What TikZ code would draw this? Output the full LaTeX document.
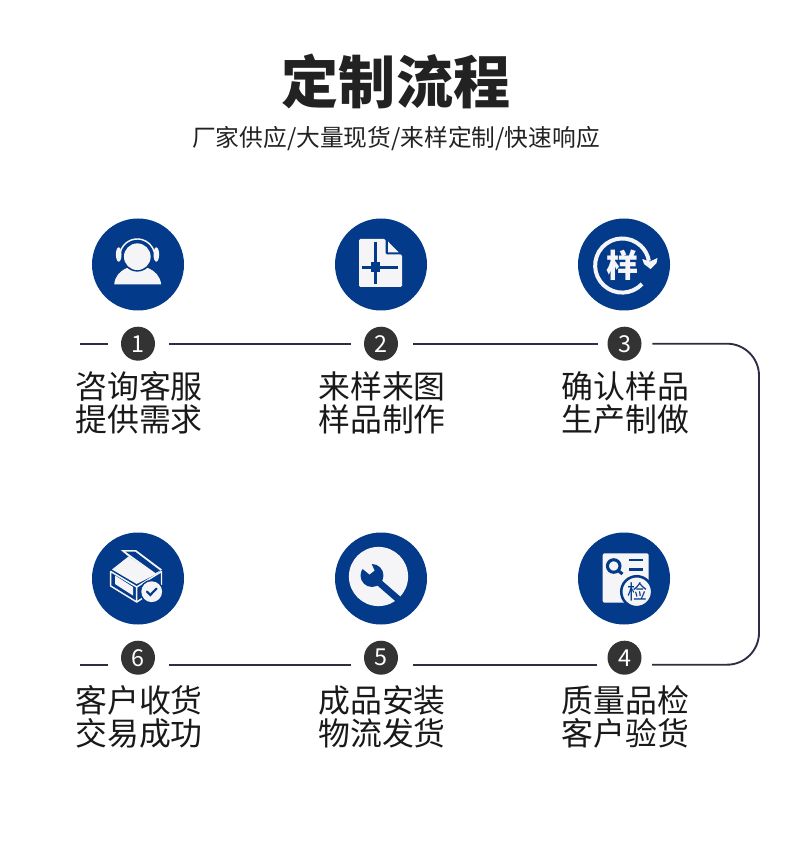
\documentclass[tikz,border=0pt]{standalone}
\usepackage{fontspec}
\setmainfont{Noto Sans CJK SC}
\definecolor{iconblue}{HTML}{043A8A}
\definecolor{iconwhite}{HTML}{F5F5F7}
\definecolor{badge}{HTML}{333333}
\definecolor{linkcol}{HTML}{2B2E45}
\definecolor{titlecol}{HTML}{222222}
\tikzset{
  x=.75pt,y=-.75pt,
  iconbg/.style={circle,fill=iconblue,draw=none,minimum size=69pt,inner sep=0pt},
  numbadge/.style={circle,fill=badge,text=white,minimum size=25.5pt,inner sep=0pt,font=\fontsize{17.5pt}{20pt}\selectfont},
  steplabel/.style={align=center,text=black!90,inner sep=0pt,font=\fontsize{23.9pt}{24.6pt}\selectfont},
  link/.style={draw=linkcol,line width=1.4pt},
  wfill/.style={fill=iconwhite,draw=none},
  bfill/.style={fill=iconblue,draw=none},
  wline/.style={draw=iconwhite,line width=1.1pt,line join=round},
  bline/.style={draw=iconblue,line width=2.2pt},
}
\begin{document}
\begin{tikzpicture}
\useasboundingbox (0,0) rectangle (790,862);
\fill[white] (0,0) rectangle (790,862);

\node[font=\fontsize{42.8pt}{48pt}\selectfont\bfseries,text=titlecol,inner sep=0pt] (title) at (396,81) {定制流程};
\node[font=\fontsize{17.8pt}{22pt}\selectfont,text=titlecol,inner sep=0pt] (subtitle) at (396,139) {厂家供应/大量现货/来样定制/快速响应};

% icon discs
\node[iconbg] (i1) at (138,264.5) {};
\node[iconbg] (i2) at (381,264.5) {};
\node[iconbg] (i3) at (624,264.5) {};
\node[iconbg] (i6) at (138,578.5) {};
\node[iconbg] (i5) at (381,578.5) {};
\node[iconbg] (i4) at (624,578.5) {};

% number badges
\node[numbadge] (n1) at (138,343.7) {1};
\node[numbadge] (n2) at (381,343.7) {2};
\node[numbadge] (n3) at (624.5,343.7) {3};
\node[numbadge] (n6) at (138,657.7) {6};
\node[numbadge] (n5) at (381,657.7) {5};
\node[numbadge] (n4) at (624.5,657.7) {4};

% connector ends
\coordinate (s1) at (80,343.7);
\coordinate (cTop) at (759,343.7);
\coordinate (cBot) at (759,664.7);
\coordinate (s6) at (80,664.7);
\coordinate (b6) at (138,664.7);
\coordinate (b5) at (381,664.7);
\coordinate (b4) at (624,664.7);
\coordinate (b4e) at (652,664.7);

\draw[link,shorten >=9.75pt] (s1) -- (n1);
\draw[link,shorten <=10.5pt,shorten >=9.75pt] (n1) -- (n2);
\draw[link,shorten <=11.25pt,shorten >=7pt] (n2) -- (n3);
\draw[link,rounded corners=24pt,shorten <=8pt] (n3) -- (cTop) -- (cBot) -- (b4e);
\draw[link,shorten <=24pt,shorten >=20pt] (b5) -- (b4);
\draw[link,shorten <=23.25pt,shorten >=22.5pt] (b6) -- (b5);
\draw[link,shorten >=22.5pt] (s6) -- (b6);

% labels
\node[steplabel] (t1) at (139,403) {咨询客服\\提供需求};
\node[steplabel] (t2) at (382,403) {来样来图\\样品制作};
\node[steplabel] (t3) at (625.5,403) {确认样品\\生产制做};
\node[steplabel] (t6) at (139,716.5) {客户收货\\交易成功};
\node[steplabel] (t5) at (382,716.5) {成品安装\\物流发货};
\node[steplabel] (t4) at (625.5,716.5) {质量品检\\客户验货};

% icon 1: headset
\fill[wfill] (114.2,284.3) .. controls (115,276) and (120,271) .. (127,268) -- (148,268) .. controls (155,271) and (160,276) .. (161.2,284.3) -- cycle;
\fill[bfill] (137.3,256.7) circle[radius=11.2pt];
\fill[wfill] (137.3,256.7) circle[radius=10pt];
\draw[wline] (120.3,252) arc[start angle=165,end angle=15,radius=13.2pt];
\fill[wfill] (118.7,254.5) ellipse[x radius=2.1pt,y radius=5.4pt];
\fill[wfill] (156.3,254.5) ellipse[x radius=2.1pt,y radius=5.4pt];

% icon 2: drawing sheet
\fill[wfill,rounded corners=1pt] (359,239) -- (385.5,239) -- (385.5,254.5) -- (402,254.5) -- (402,287) -- (359,287) -- cycle;
\fill[wfill] (388,241.5) -- (398.7,252.3) -- (388,252.3) -- cycle;
\draw[bline] (375.3,242) -- (375.3,284);
\draw[bline] (361.7,267.3) -- (398.3,267.3);
\fill[bfill] (370.5,262.5) rectangle (380.1,272.1);

% icon 3: sample cycle
\draw[draw=iconwhite,line width=3pt] (642,284) arc[start angle=-43,end angle=-350,radius=20.3pt];
\fill[wfill] (642.3,259) -- (650,261.5) -- (657.5,258) -- (656.5,263) -- (650.5,269) -- (644,264) -- cycle;
\node[text=iconwhite,inner sep=0pt,font=\fontsize{24pt}{26pt}\selectfont\bfseries] (g3) at (622,265) {样};

% icon 4: inspection sheet
\fill[wfill,rounded corners=1.5pt] (602.7,553.3) rectangle (648.7,602.7);
\draw[bline,line width=2.3pt] (613.7,566) circle[radius=4.7pt];
\draw[bline,line width=2.3pt] (618,570.5) -- (622.5,574);
\draw[bline] (629.3,560) -- (642.7,560);
\draw[bline] (629.3,569.3) -- (642.7,569.3);
\fill[wfill] (636.7,591.7) circle[radius=11.5pt];
\draw[draw=iconblue,line width=1.9pt] (636.7,591.7) circle[radius=11.6pt];
\node[text=iconblue,inner sep=0pt,font=\fontsize{15pt}{17pt}\selectfont] (g4) at (637,592) {检};

% icon 5: wrench
\fill[wfill] (378.5,576.5) circle[radius=22.2pt];
\fill[bfill] (372,575.5) circle[radius=8.6pt];
\draw[draw=iconblue,line width=5pt] (375,579) -- (406,606);
\fill[wfill] (358,565) -- (368,556) -- (374.5,570.5) -- (369.5,574.5) -- cycle;

% icon 6: box
\fill[wfill] (120.7,550) -- (136,550) -- (162,569.5) -- (155,575) -- (128,556) -- cycle;
\fill[bfill] (125.5,551.6) -- (135,551.6) -- (160,570.5) -- (155.5,573) -- (131,555.5) -- cycle;
\fill[wfill] (112,569.5) -- (128.5,556.5) -- (155.5,574.5) -- (136.7,584) -- cycle;
\draw[wline] (110.7,571.5) -- (136.7,587) -- (136.7,602) -- (110.7,586) -- cycle;
\fill[wfill] (115,575.5) -- (133,587) -- (133,595.5) -- (115,584) -- cycle;
\draw[wline] (136.7,587) -- (161.5,571.5) -- (161.5,585);
\draw[wline] (136.7,602) -- (146,596);
\fill[bfill] (151.7,591.7) circle[radius=9pt];
\fill[wfill] (151.7,591.7) circle[radius=7.8pt];
\draw[draw=iconblue,line width=1.6pt,line cap=round] (147,591.5) -- (150.3,595) -- (156.5,588.5);
\end{tikzpicture}
\end{document}
